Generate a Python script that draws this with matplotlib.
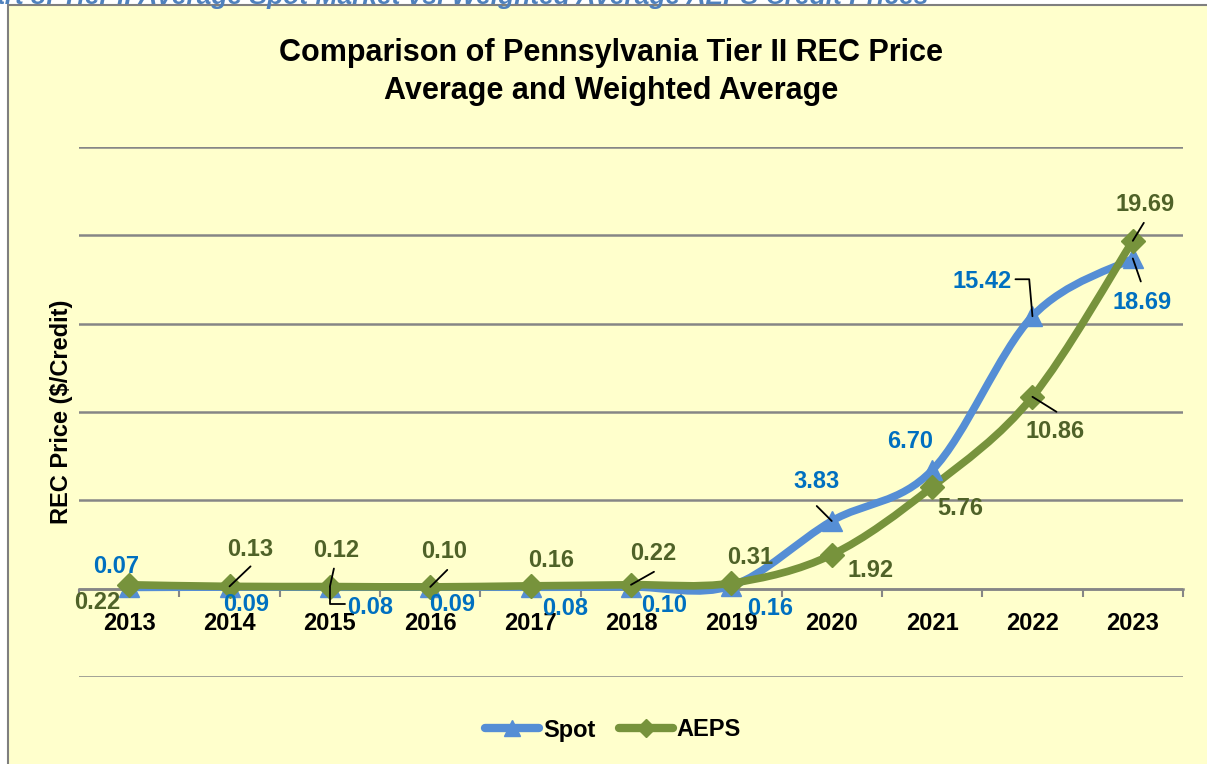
import matplotlib
matplotlib.use('Agg')
import matplotlib.pyplot as plt
from matplotlib.path import Path
from matplotlib.patches import PathPatch, Rectangle
from matplotlib.lines import Line2D
import numpy as np

plt.rcParams['font.family'] = ['Liberation Sans Narrow', 'Liberation Sans', 'DejaVu Sans']
plt.rcParams['font.weight'] = 'bold'

#%% data
years = ['2013', '2014', '2015', '2016', '2017', '2018', '2019', '2020', '2021', '2022', '2023']
spot = [0.07, 0.09, 0.08, 0.09, 0.08, 0.10, 0.16, 3.83, 6.70, 15.42, 18.69]
aeps = [0.22, 0.13, 0.12, 0.10, 0.16, 0.22, 0.31, 1.92, 5.76, 10.86, 19.69]

# label offsets (pixels, relative to point)
spotOffsets = [(-13, 21), (17, -17), (40, -20), (22, -17), (34, -21), (33, -19),
               (39, -23), (-15, 40), (-22, 29), (-50, 35), (9, -44)]
aepsOffsets = [(-32, -18), (21, 37), (6, 36), (14, 35), (20, 25), (22, 31),
               (19, 26), (39, -16), (28, -22), (23, -35), (12, 36)]
# leader lines: index -> (start offset, connection style)
spotLeaders = {2: ((15, -17), 'angle,angleA=0,angleB=90,rad=0'),
               7: ((-15, 15), 'arc3'),
               9: ((-17, 37), 'angle,angleA=0,angleB=95,rad=0'),
               10: ((8, -23), 'arc3')}
aepsLeaders = {1: ((21, 20), 'arc3'), 2: ((4, 18), 'arc3'), 3: ((17, 17), 'arc3'),
               5: ((23, 13), 'arc3'), 9: ((24, -15), 'arc3'), 10: ((11, 18), 'arc3')}

spotColor = '#558ED5'
spotText = '#0070C0'
aepsColor = '#77933C'
aepsText = '#4F6228'
gridColor = '#868686'


def smoothPath(xs, ys):
    # excel style smoothed line as cubic bezier segments
    n = len(xs)
    verts = [(xs[0], ys[0])]
    codes = [Path.MOVETO]
    for i in range(n - 1):
        a = i - 1 if i > 0 else i
        d = i + 2 if i + 2 < n else i + 1
        c1 = (xs[i] + (xs[i + 1] - xs[a]) / 6.0, ys[i] + (ys[i + 1] - ys[a]) / 6.0)
        c2 = (xs[i + 1] - (xs[d] - xs[i]) / 6.0, ys[i + 1] - (ys[d] - ys[i]) / 6.0)
        verts += [c1, c2, (xs[i + 1], ys[i + 1])]
        codes += [Path.CURVE4] * 3
    return Path(verts, codes)


fig = plt.figure(figsize=(12.07, 7.64), dpi=100)
fig.patch.set_facecolor('white')
fig.patches.append(Rectangle((8 / 1207, -0.05), 1.2, 1 - 5 / 764 + 0.05,
                             transform=fig.transFigure, facecolor='#FFFFCC',
                             edgecolor='#7F7F7F', linewidth=1.5, zorder=-5))

# caption of the report, cut off at the top edge as in the source
fig.text(-0.037, 1 - 4 / 764, 'Chart 3: Tier II Average Spot Market vs. Weighted Average AEPS Credit Prices',
         color='#4F81BD', fontsize=19, style='italic', fontweight='bold', va='baseline', ha='left')

ax = fig.add_axes([79 / 1207, 1 - 677 / 764, (1183 - 79) / 1207, (677 - 147) / 764])
ax.set_zorder(2)
ax.set_facecolor('none')
x = np.arange(len(years))
ax.set_xlim(-0.5, len(years) - 0.5)
ax.set_ylim(-5, 25)
ax.set_yticks(np.arange(-5, 26, 5))
ax.yaxis.grid(True, color=gridColor, linewidth=1.8)
ax.set_axisbelow(True)
ax.tick_params(axis='y', length=0, labelleft=False)
for s in ['top', 'right', 'left']:
    ax.spines[s].set_visible(False)
ax.spines['bottom'].set_position(('data', 0))
ax.spines['bottom'].set_color(gridColor)
ax.spines['bottom'].set_linewidth(1.8)

ax.set_xticks(x)
ax.set_xticklabels(years, fontsize=17, fontweight='bold')
ax.set_xticks(np.arange(-0.5, len(years), 1), minor=True)
ax.tick_params(axis='x', which='major', length=0, pad=17)
ax.tick_params(axis='x', which='minor', length=6, width=1.5, color=gridColor, direction='out')

ax.set_ylabel('REC Price ($/Credit)', fontsize=17, fontweight='bold', labelpad=4)

for vals, col, mk, ms in [(spot, spotColor, '^', 15), (aeps, aepsColor, 'D', 12)]:
    ax.add_patch(PathPatch(smoothPath(x, vals), fill=False, edgecolor=col, linewidth=5.5,
                           capstyle='round', joinstyle='round', zorder=3))
    ax.plot(x, vals, linestyle='none', marker=mk, markersize=ms, color=col, zorder=4)

for vals, offs, tc, leaders in [(spot, spotOffsets, spotText, spotLeaders),
                                (aeps, aepsOffsets, aepsText, aepsLeaders)]:
    for i, v in enumerate(vals):
        ax.annotate('%.2f' % v, xy=(x[i], v), xytext=offs[i], textcoords='offset pixels',
                    ha='center', va='center', fontsize=17, fontweight='bold', color=tc, zorder=6)
    for i, (start, cs) in leaders.items():
        ax.annotate('', xy=(x[i], vals[i]), xytext=start, textcoords='offset pixels',
                    arrowprops=dict(arrowstyle='-', color='black', lw=1.3, shrinkA=0, shrinkB=0,
                                    connectionstyle=cs), zorder=5)

fig.text(611 / 1207, 1 - 72 / 764, 'Comparison of Pennsylvania Tier II REC Price\nAverage and Weighted Average',
         ha='center', va='center', fontsize=22, fontweight='bold', linespacing=1.35)

handles = [Line2D([], [], color=spotColor, lw=6, marker='^', markersize=11, solid_capstyle='round'),
           Line2D([], [], color=aepsColor, lw=6, marker='D', markersize=9, solid_capstyle='round')]
fig.legend(handles, ['Spot', 'AEPS'], loc='center', bbox_to_anchor=(613 / 1207, 1 - 730 / 764),
           ncol=2, frameon=False, prop={'size': 17, 'weight': 'bold'},
           handlelength=2.3, handletextpad=0.15, columnspacing=1.0)

fig.savefig('out.png', dpi=100, facecolor=fig.get_facecolor())
